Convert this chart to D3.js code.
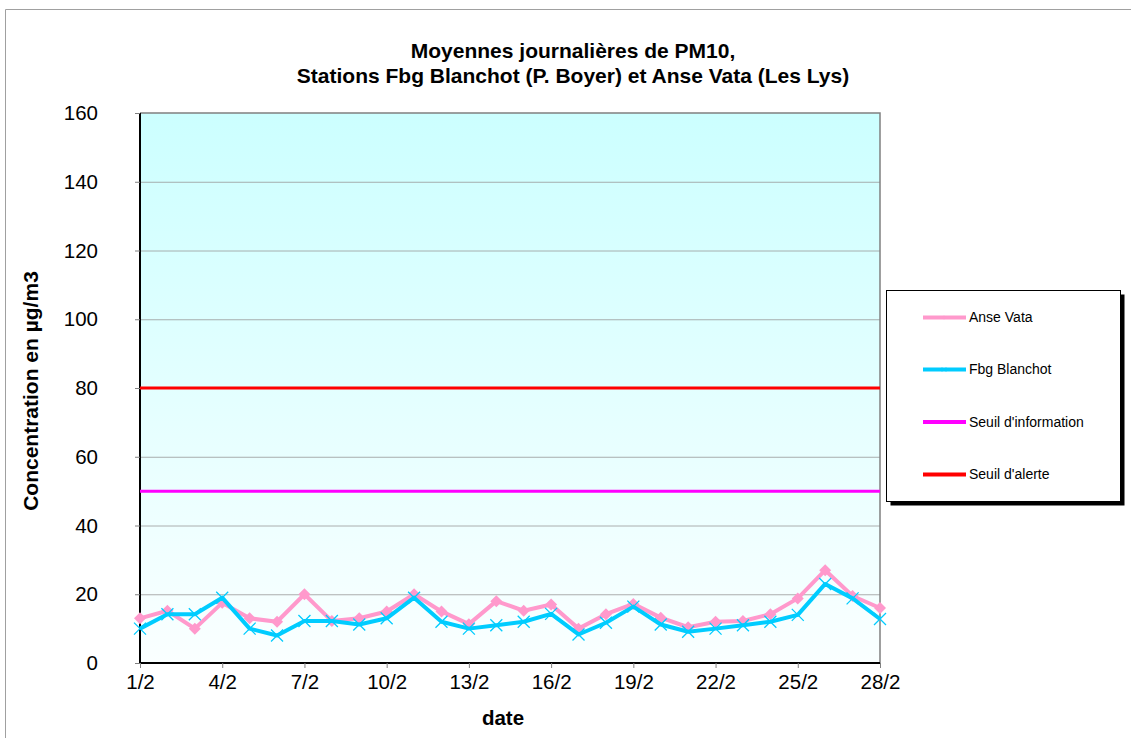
<!DOCTYPE html>
<html><head><meta charset="utf-8">
<script src="https://cdn.jsdelivr.net/npm/d3@7"></script>
<style>body{margin:0;background:#fff;}svg{display:block;font-family:"Liberation Sans",Arial,sans-serif;}</style>
</head><body>
<svg id="c" width="1131" height="738"></svg>
<script>
const days = d3.range(1, 29).map(d => d + "/2");
const anseVata = [13,15.2,10,17.5,13,12,20,12.2,13,15,20,15,11.3,18,15.2,17,10,14.2,17.2,13.2,10.4,12,12.2,14.2,18.8,27,19.5,16];
const fbgBlanchot = [10,14.2,14.2,19,10,8,12.2,12.2,11.2,13,19,12,10,11,12,14.3,8.3,11.7,16.4,11.2,9.1,10,11,12,14,23,18.8,12.8];
const seuilInfo = 50;
const seuilAlerte = 80;
const yTicks = [0,20,40,60,80,100,120,140,160];
const xTickLabels = ["1/2","4/2","7/2","10/2","13/2","16/2","19/2","22/2","25/2","28/2"];
const legendItems = [
  {name:"Anse Vata", color:"#FF99CC", marker:"diamond"},
  {name:"Fbg Blanchot", color:"#00CCFF", marker:"x"},
  {name:"Seuil d'information", color:"#FF00FF"},
  {name:"Seuil d'alerte", color:"#FF0000"}
];

const svg = d3.select("#c");
const L = 140, R = 880, T = 113, B = 663;
const x = d3.scalePoint().domain(days).range([L, R]);
const y = d3.scaleLinear().domain([0, 160]).range([B, T]);

// outer border
svg.append("path").attr("d", "M5.5,738 V9.5 H1131").attr("fill","none").attr("stroke","#a0a0a0").attr("stroke-width",1);

// gradient
const defs = svg.append("defs");
const g = defs.append("linearGradient").attr("id","bg").attr("x1",0).attr("y1",0).attr("x2",0).attr("y2",1);
g.append("stop").attr("offset","0%").attr("stop-color","#CCFFFF");
g.append("stop").attr("offset","100%").attr("stop-color","#FAFFFF");
svg.append("rect").attr("x",L).attr("y",T).attr("width",R-L).attr("height",B-T).attr("fill","url(#bg)");

// gridlines
svg.append("g").selectAll("line").data(yTicks.filter(v => v>0 && v<160)).join("line")
  .attr("x1",L).attr("x2",R).attr("y1",d=>y(d)+0.5).attr("y2",d=>y(d)+0.5)
  .attr("stroke","#999").attr("stroke-width",0.8);

// frame top/right gray
svg.append("path").attr("d",`M${L},${T} H${R} V${B}`).attr("fill","none").attr("stroke","#808080").attr("stroke-width",1.5);

// y axis
const yAxis = d3.axisLeft(y).tickValues(yTicks).tickSize(5).tickPadding(37);
const ya = svg.append("g").attr("transform",`translate(${L},0)`).call(yAxis);
ya.select(".domain").attr("stroke","#000").attr("stroke-width",2).attr("d",`M0,${T}V${B}`);
ya.selectAll(".tick line").attr("stroke","#808080");
ya.selectAll(".tick text").attr("font-size",20.5).attr("fill","#000").attr("font-family","Liberation Sans, Arial");

// x axis
const xAxis = d3.axisBottom(x).tickValues(xTickLabels).tickSize(5).tickPadding(6);
const xa = svg.append("g").attr("transform",`translate(0,${B})`).call(xAxis);
xa.select(".domain").attr("stroke","#000").attr("stroke-width",2).attr("d",`M${L},0H${R}`);
xa.selectAll(".tick line").attr("stroke","#808080");
xa.selectAll(".tick text").attr("font-size",20.5).attr("fill","#000").attr("font-family","Liberation Sans, Arial").attr("dy","0.75em");

// threshold lines
svg.append("line").attr("x1",L).attr("x2",R).attr("y1",y(seuilAlerte)).attr("y2",y(seuilAlerte)).attr("stroke","#FF0000").attr("stroke-width",3);
svg.append("line").attr("x1",L).attr("x2",R).attr("y1",y(seuilInfo)).attr("y2",y(seuilInfo)).attr("stroke","#FF00FF").attr("stroke-width",3);

const line = d3.line().x((d,i)=>x(days[i])).y(d=>y(d));
// Anse Vata
svg.append("path").datum(anseVata).attr("d",line).attr("fill","none").attr("stroke","#FF99CC").attr("stroke-width",4).attr("stroke-linejoin","round");
svg.append("g").selectAll("path").data(anseVata).join("path")
  .attr("transform",(d,i)=>`translate(${x(days[i])},${y(d)})`)
  .attr("d","M0,-6L6,0L0,6L-6,0Z").attr("fill","#FF99CC");
// Fbg Blanchot
svg.append("path").datum(fbgBlanchot).attr("d",line).attr("fill","none").attr("stroke","#00CCFF").attr("stroke-width",4).attr("stroke-linejoin","round");
svg.append("g").selectAll("path").data(fbgBlanchot).join("path")
  .attr("transform",(d,i)=>`translate(${x(days[i])},${y(d)})`)
  .attr("d","M-6,-6L6,6M-6,6L6,-6").attr("fill","none").attr("stroke","#00CCFF").attr("stroke-width",1.3);

// titles
const title = svg.append("text").attr("text-anchor","middle").attr("font-weight","bold").attr("font-size",21);
title.append("tspan").attr("x",573).attr("y",58).text("Moyennes journalières de PM10,");
title.append("tspan").attr("x",573).attr("y",83).text("Stations Fbg Blanchot (P. Boyer) et Anse Vata (Les Lys)");
svg.append("text").attr("x",503).attr("y",725).attr("text-anchor","middle").attr("font-weight","bold").attr("font-size",20.5).text("date");
svg.append("text").attr("transform","translate(38,391) rotate(-90)").attr("text-anchor","middle").attr("font-weight","bold").attr("font-size",21).text("Concentration en µg/m3");

// legend
svg.append("rect").attr("x",890.5).attr("y",294.5).attr("width",234).attr("height",211).attr("fill","#000");
svg.append("rect").attr("x",886.5).attr("y",290.5).attr("width",234).attr("height",211).attr("fill","#fff").attr("stroke","#000").attr("stroke-width",1);
const ly = [317.5, 369.5, 422, 474.5];
const lg = svg.append("g").selectAll("g").data(legendItems).join("g").attr("transform",(d,i)=>`translate(0,${ly[i]})`);
lg.append("line").attr("x1",923).attr("x2",966).attr("y1",0).attr("y2",0).attr("stroke",d=>d.color).attr("stroke-width",4);
lg.filter(d=>d.marker==="diamond").append("path").attr("d","M944,-2L946,0L944,2L942,0Z").attr("fill","#FF99CC");
lg.filter(d=>d.marker==="x").append("path").attr("d","M942,-2L946,2M942,2L946,-2").attr("stroke","#00CCFF").attr("stroke-width",1);
lg.append("text").attr("x",969).attr("y",0).attr("dy","0.35em").attr("font-size",14).text(d=>d.name);
</script>
</body></html>
